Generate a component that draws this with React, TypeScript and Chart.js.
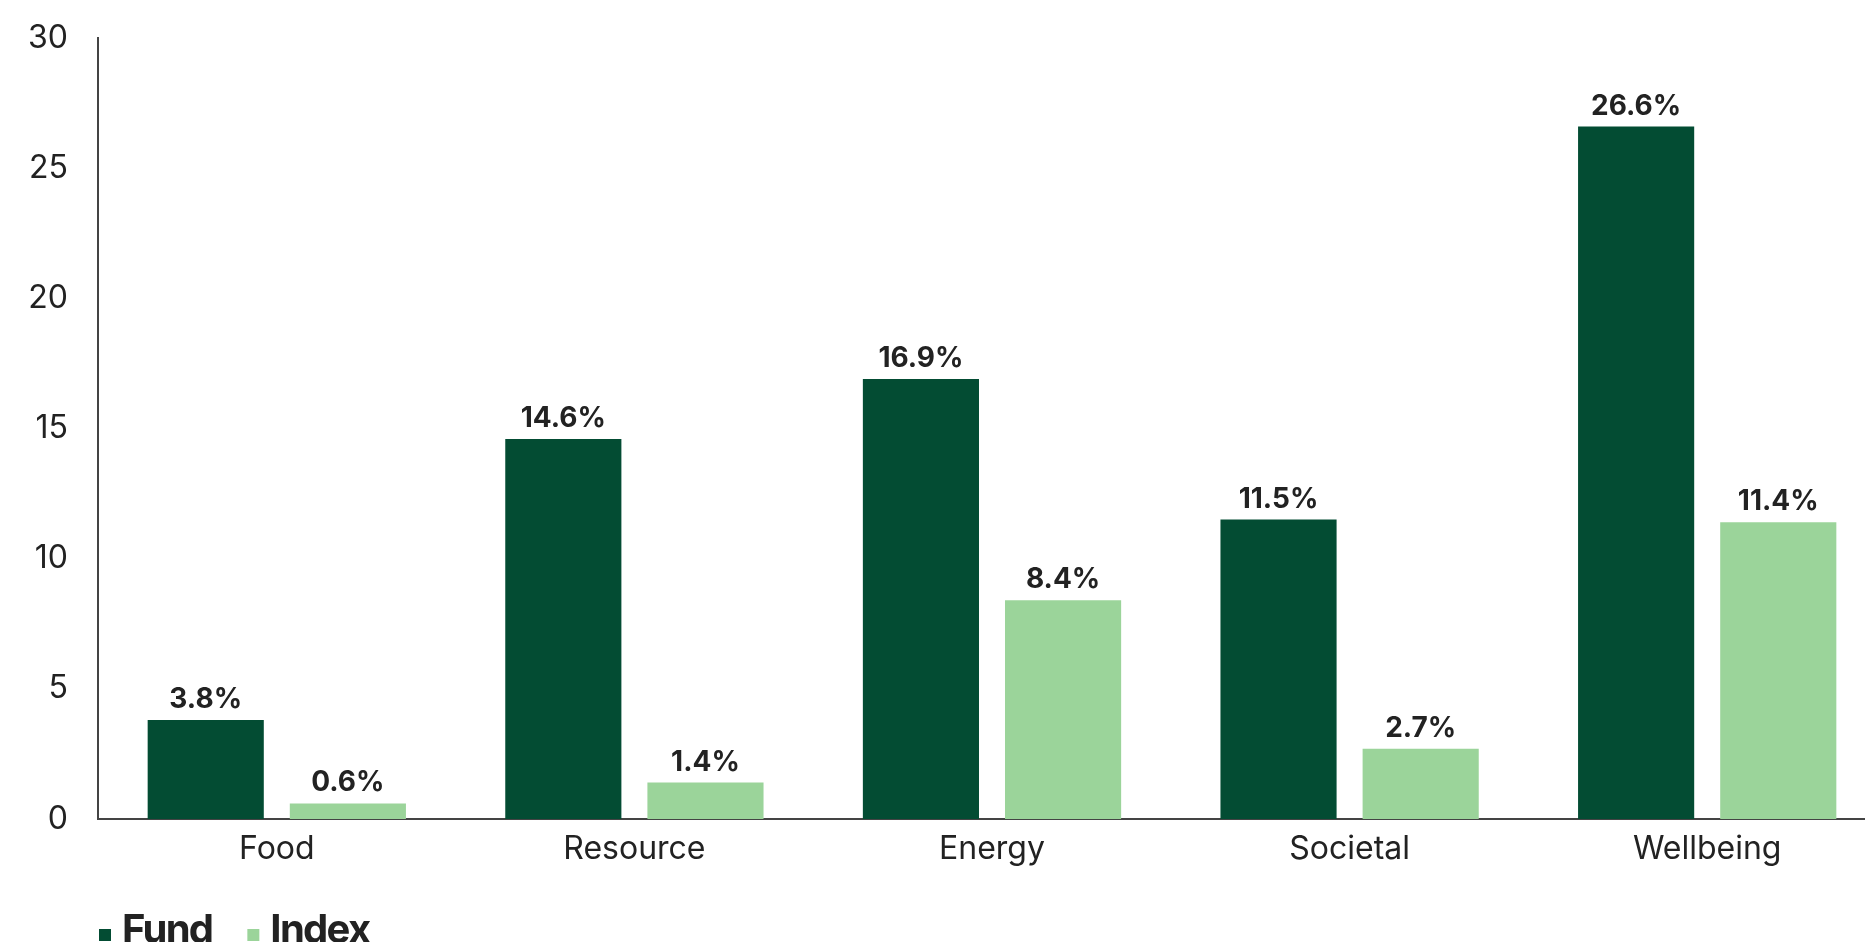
import React, { useEffect, useRef } from "react";
import { Chart, registerables } from "chart.js";

Chart.register(...registerables);

const categories = ["Food", "Resource", "Energy", "Societal", "Wellbeing"];
const fundValues = [3.8, 14.6, 16.9, 11.5, 26.6];
const indexValues = [0.6, 1.4, 8.4, 2.7, 11.4];
const seriesNames = ["Fund", "Index"];
const yTicks = [0, 5, 10, 15, 20, 25, 30];

const FONT = "Inter, 'Noto Sans', sans-serif";
const TEXT = "#222222";
const FUND_COLOR = "#034c33";
const INDEX_COLOR = "#9bd49a";

const valueLabels = {
  id: "valueLabels",
  afterDatasetsDraw(chart: any) {
    const ctx = chart.ctx;
    ctx.save();
    ctx.font = `700 28px ${FONT}`;
    ctx.fillStyle = TEXT;
    ctx.textAlign = "center";
    ctx.textBaseline = "alphabetic";
    chart.data.datasets.forEach((ds: any, i: number) => {
      const meta = chart.getDatasetMeta(i);
      meta.data.forEach((bar: any, j: number) => {
        const v = ds.data[j] as number;
        ctx.fillText(v.toFixed(1) + "%", bar.x, bar.y - 12);
      });
    });
    ctx.restore();
  },
};

const bottomLegend = {
  id: "bottomLegend",
  afterDraw(chart: any) {
    const ctx = chart.ctx;
    ctx.save();
    ctx.font = `700 40px ${FONT}`;
    try {
      (ctx as any).letterSpacing = "-1.7px";
    } catch (e) {}
    ctx.textAlign = "left";
    ctx.textBaseline = "alphabetic";
    let x = chart.chartArea.left + 1;
    const base = chart.height - 1;
    chart.data.datasets.forEach((ds: any) => {
      ctx.fillStyle = ds.backgroundColor;
      ctx.fillRect(x, base - 12, 12, 12);
      ctx.fillStyle = TEXT;
      ctx.fillText(ds.label, x + 23, base + 2);
      x += 23 + ctx.measureText(ds.label).width + 35;
    });
    ctx.restore();
  },
};

export default function App() {
  const ref = useRef<HTMLCanvasElement | null>(null);

  useEffect(() => {
    document.body.style.margin = "0";
    if (!ref.current) return;
    const chart = new Chart(ref.current, {
      type: "bar",
      data: {
        labels: categories,
        datasets: [
          {
            label: seriesNames[0],
            data: fundValues,
            backgroundColor: FUND_COLOR,
            categoryPercentage: 0.795,
            barPercentage: 0.817,
          },
          {
            label: seriesNames[1],
            data: indexValues,
            backgroundColor: INDEX_COLOR,
            categoryPercentage: 0.795,
            barPercentage: 0.817,
          },
        ],
      },
      options: {
        animation: false,
        responsive: true,
        maintainAspectRatio: false,
        layout: { padding: { top: 38, right: 4, bottom: 63, left: 0 } },
        plugins: {
          legend: { display: false },
          tooltip: { enabled: false },
        },
        scales: {
          x: {
            grid: { display: false, drawTicks: false },
            border: { display: true, color: "#444444", width: 2 },
            ticks: {
              color: TEXT,
              font: { family: FONT, size: 32, weight: 400 },
              padding: 11,
              maxRotation: 0,
            },
            afterFit(scale: any) {
              scale.height = 60;
            },
          },
          y: {
            min: 0,
            max: 30,
            grid: { display: false, drawTicks: false },
            border: { display: true, color: "#444444", width: 2 },
            ticks: {
              color: TEXT,
              font: { family: FONT, size: 32, weight: 400 },
              padding: 30,
            },
            afterBuildTicks(scale: any) {
              scale.ticks = yTicks.map((v) => ({ value: v }));
            },
            afterFit(scale: any) {
              scale.width = 98;
              scale.paddingTop = 20;
              scale.paddingBottom = 0;
            },
          },
        },
      },
      plugins: [valueLabels, bottomLegend],
    });
    return () => chart.destroy();
  }, []);

  return (
    <div
      style={{
        position: "fixed",
        left: 0,
        top: 0,
        width: 1865,
        height: 942,
        overflow: "hidden",
        background: "#ffffff",
      }}
    >
      <div style={{ position: "relative", width: 1890, height: 942 }}>
        <canvas ref={ref} />
      </div>
    </div>
  );
}
